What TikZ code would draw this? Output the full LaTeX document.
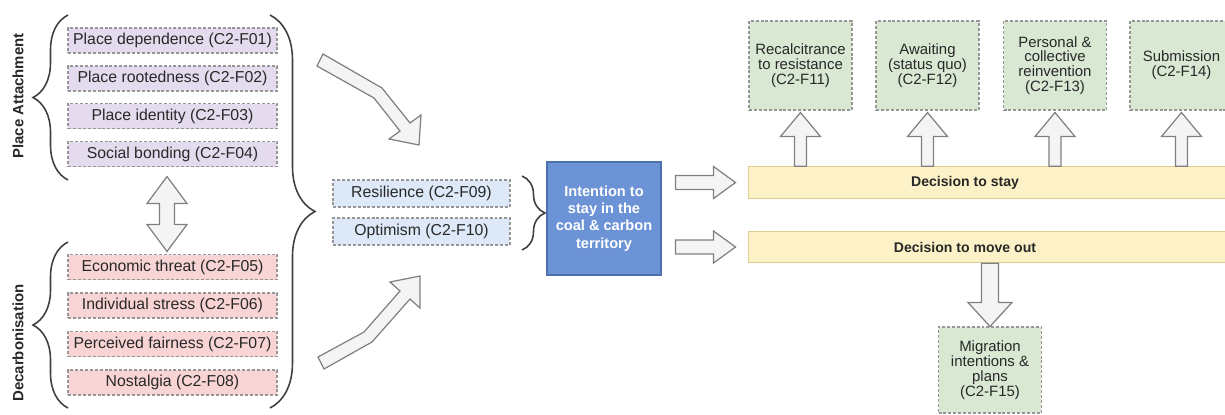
\documentclass[tikz,border=0pt]{standalone}
\usepackage{fontspec}
\setmainfont{Liberation Sans}
\usetikzlibrary{calc,decorations.pathreplacing}

\definecolor{lilac}{RGB}{229,219,238}
\definecolor{rose}{RGB}{248,212,212}
\definecolor{skyfill}{RGB}{221,233,248}
\definecolor{sage}{RGB}{217,232,210}
\definecolor{cream}{RGB}{253,242,199}
\definecolor{creamline}{RGB}{222,206,146}
\definecolor{steel}{RGB}{108,147,213}
\definecolor{steelline}{RGB}{78,112,172}
\definecolor{dashgray}{RGB}{150,150,150}
\definecolor{arrowgray}{RGB}{128,128,128}
\definecolor{arrowfill}{RGB}{244,244,244}
\definecolor{txt}{RGB}{40,40,40}

% block arrow: from, to, half shaft, half head, head length (px)
\newcommand\blockarrow[5]{%
  \filldraw[blockarr] let \p1=(#1), \p2=(#2),
    \n1={veclen(\x2-\x1,\y2-\y1)}, \n2={(\x2-\x1)/\n1}, \n3={(\y2-\y1)/\n1},
    \n4={#3*0.569}, \n5={#4*0.569}, \n6={#5*0.569}
  in (\x1-\n4*\n3,\y1+\n4*\n2)
  -- (\x2-\n6*\n2-\n4*\n3,\y2-\n6*\n3+\n4*\n2)
  -- (\x2-\n6*\n2-\n5*\n3,\y2-\n6*\n3+\n5*\n2)
  -- (\x2,\y2)
  -- (\x2-\n6*\n2+\n5*\n3,\y2-\n6*\n3-\n5*\n2)
  -- (\x2-\n6*\n2+\n4*\n3,\y2-\n6*\n3-\n4*\n2)
  -- (\x1+\n4*\n3,\y1-\n4*\n2) -- cycle;}
% same, with a head at both ends
\newcommand\blockarrowboth[5]{%
  \filldraw[blockarr] let \p1=(#1), \p2=(#2),
    \n1={veclen(\x2-\x1,\y2-\y1)}, \n2={(\x2-\x1)/\n1}, \n3={(\y2-\y1)/\n1},
    \n4={#3*0.569}, \n5={#4*0.569}, \n6={#5*0.569}
  in (\x1,\y1)
  -- (\x1+\n6*\n2-\n5*\n3,\y1+\n6*\n3+\n5*\n2)
  -- (\x1+\n6*\n2-\n4*\n3,\y1+\n6*\n3+\n4*\n2)
  -- (\x2-\n6*\n2-\n4*\n3,\y2-\n6*\n3+\n4*\n2)
  -- (\x2-\n6*\n2-\n5*\n3,\y2-\n6*\n3+\n5*\n2)
  -- (\x2,\y2)
  -- (\x2-\n6*\n2+\n5*\n3,\y2-\n6*\n3-\n5*\n2)
  -- (\x2-\n6*\n2+\n4*\n3,\y2-\n6*\n3-\n4*\n2)
  -- (\x1+\n6*\n2+\n4*\n3,\y1+\n6*\n3-\n4*\n2)
  -- (\x1+\n6*\n2+\n5*\n3,\y1+\n6*\n3-\n5*\n2) -- cycle;}

\begin{document}
\begin{tikzpicture}[x=0.02cm,y=-0.02cm,
  fbox/.style={draw=dashgray,dash pattern=on 1.7pt off 1.1pt,line width=0.6pt,text=txt,
    font=\fontsize{9}{10}\selectfont,minimum height=0.5cm,inner sep=1pt},
  attach/.style={fbox,fill=lilac,minimum width=4.18cm},
  decarb/.style={fbox,fill=rose,minimum width=4.18cm},
  trait/.style={fbox,fill=skyfill,minimum width=3.54cm,minimum height=0.54cm},
  outcome/.style={fbox,fill=sage,minimum width=2.06cm,minimum height=1.78cm,align=center,
    font=\fontsize{8.5}{8.4}\selectfont},
  decision/.style={draw=creamline,fill=cream,line width=0.6pt,minimum width=9.64cm,minimum height=0.63cm},
  bartext/.style={font=\bfseries\fontsize{8}{9}\selectfont,text=txt},
  sidelabel/.style={rotate=90,font=\bfseries\fontsize{8.5}{10}\selectfont,text=txt},
  curly/.style={decorate,decoration={brace,amplitude=#1},line width=0.9pt,draw=black!75},
  blockarr/.style={draw=arrowgray,fill=arrowfill,line width=0.7pt}]
\useasboundingbox (0,0) rectangle (1225,414);

% place attachment
\node[attach] (f01) at (172.5,40.5) {Place dependence (C2-F01)};
\node[attach] (f02) at (172.5,78.5) {Place rootedness (C2-F02)};
\node[attach] (f03) at (172.5,116) {Place identity (C2-F03)};
\node[attach] (f04) at (172.5,154) {Social bonding (C2-F04)};
\draw[curly=0.7cm] (68,180) -- (68,15);
\node[sidelabel] (lblpa) at (18,96) {Place Attachment};

% decarbonisation
\node[decarb] (f05) at (172.5,267) {Economic threat (C2-F05)};
\node[decarb] (f06) at (172.5,305.5) {Individual stress (C2-F06)};
\node[decarb] (f07) at (172.5,344) {Perceived fairness (C2-F07)};
\node[decarb] (f08) at (172.5,382.5) {Nostalgia (C2-F08)};
\draw[curly=0.7cm] (68,408) -- (68,242);
\node[sidelabel] (lbldc) at (18,343) {Decarbonisation};

\blockarrowboth{$(f04.south)+(-5.5,9.5)$}{$(f05.north)+(-5.5,-2.5)$}{7.5}{20}{27}
\draw[curly=0.9cm] (270,15) -- (270,408);

% curved arrows towards the traits
\filldraw[blockarr] (317,66) -- (323,54) -- (382,88) -- (410,123) -- (421,115)
  -- (419,145) -- (389,139) -- (400,131) -- (374,98) -- cycle;
\filldraw[blockarr] (318,357) -- (364,332) -- (400,291) -- (390,282) -- (420,276)
  -- (420,308) -- (410,299) -- (372,342) -- (324,369) -- cycle;

% traits and intention
\node[trait] (f09) at (421.5,193.5) {Resilience (C2-F09)};
\node[trait] (f10) at (421.5,231.5) {Optimism (C2-F10)};
\draw[curly=0.46cm] (522,176) -- (522,250);
\node[draw=steelline,fill=steel,line width=0.6pt,minimum width=2.28cm,minimum height=2.26cm,
  text=white,align=center,font=\bfseries\fontsize{8.3}{9.8}\selectfont]
  (intent) at (604,218.5) {Intention to\\stay in the\\coal \& carbon\\territory};

% decisions
\node[decision,label={[bartext,xshift=-0.48cm]center:Decision to stay}] (stay) at (989,182.5) {};
\node[decision,label={[bartext,xshift=-0.48cm]center:Decision to move out}] (move) at (989,247) {};
\blockarrow{$(intent.east |- stay.west)+(14,0)$}{$(stay.west)+(-12,0)$}{7}{16}{22}
\blockarrow{$(intent.east |- move.west)+(14,0)$}{$(move.west)+(-12,0)$}{7}{16}{22}

% outcomes
\node[outcome] (f11) at (800.5,65.5) {Recalcitrance\\to resistance\\(C2-F11)};
\node[outcome] (f12) at (927.5,65.5) {Awaiting\\(status quo)\\(C2-F12)};
\node[outcome] (f13) at (1055,65.5) {Personal \&\\collective\\reinvention\\(C2-F13)};
\node[outcome] (f14) at (1181.5,65.5) {Submission\\(C2-F14)};
\node[outcome,minimum height=1.72cm] (f15) at (990,370) {Migration\\intentions \&\\plans\\(C2-F15)};
\foreach \g in {f11,f12,f13,f14}
  \blockarrow{$(stay.north -| \g.south)$}{$(\g.south)+(0,2)$}{6}{20}{24};
\blockarrow{$(move.south -| f15.north)$}{$(f15.north)$}{8.5}{22}{24}
\end{tikzpicture}
\end{document}
